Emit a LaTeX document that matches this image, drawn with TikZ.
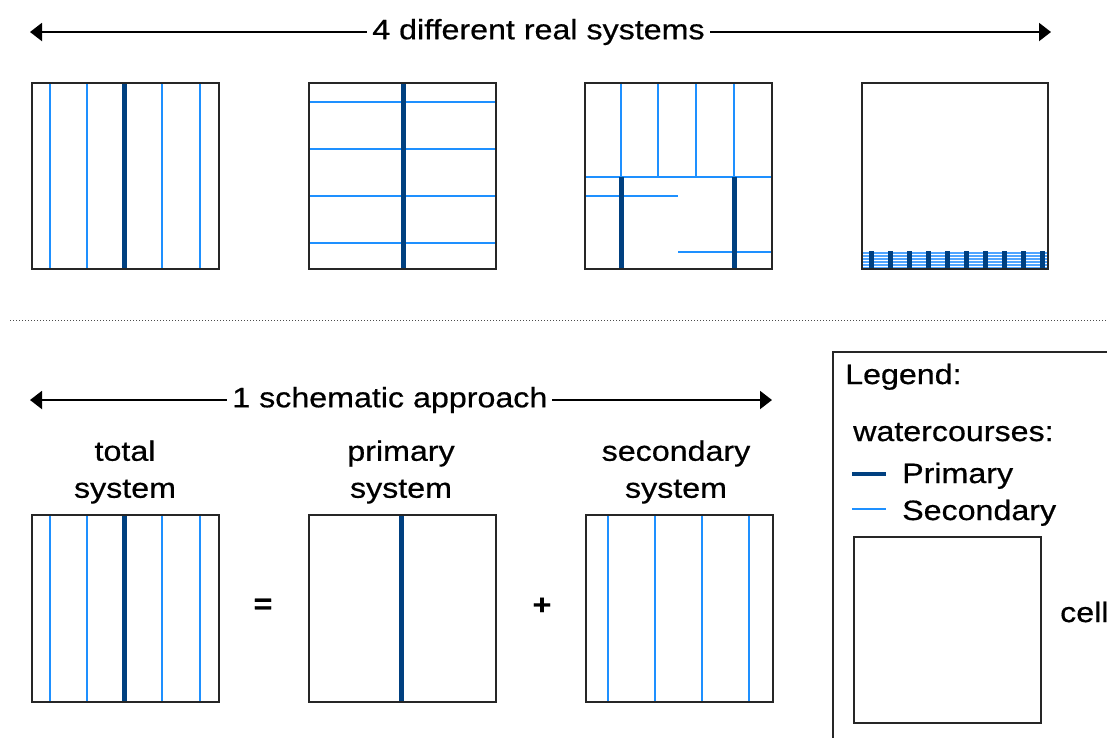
\documentclass[tikz,border=0pt]{standalone}
\usepackage{fontspec}
\setmainfont{Liberation Sans}[FakeStretch=1.15,FakeBold=0.6]
\usetikzlibrary{arrows.meta}
\definecolor{primc}{RGB}{0,64,128}
\definecolor{secc}{RGB}{30,144,255}
\definecolor{hatchc}{RGB}{80,165,255}
\begin{document}
\begin{tikzpicture}[x=1pt,y=-1pt,
  font=\fontsize{28}{37}\selectfont,
  cellbox/.style={draw=black!85, line width=2pt, minimum width=187pt, minimum height=186pt, inner sep=0pt},
  prim/.style={draw=primc, line width=5pt},
  sec/.style={draw=secc, line width=2pt},
  hatch/.style={draw=hatchc, line width=1.6pt},
  dbl/.style={line width=2pt, {Triangle[length=12pt,width=18pt]}-{Triangle[length=12pt,width=18pt]}},
  lbl/.style={fill=white, inner xsep=5pt, inner ysep=0pt},
  txt/.style={inner sep=0pt, align=center}]
\useasboundingbox (0,0) rectangle (1107,737);
\fill[white] (0,0) rectangle (1107,737);

% ---------- top arrow ----------
\coordinate (t1) at (30,32);
\coordinate (t2) at (1051,32);
\draw[dbl] (t1) -- node[lbl, pos=0.498] (ttop) {4 different real systems} (t2);

% ---------- top box 1 ----------
\foreach \x in {49.5,87,162,200} \draw[sec] (\x,83) -- (\x,269);
\draw[prim] (124.5,83) -- (124.5,269);
\node[cellbox] (b1) at (125.5,176) {};

% ---------- top box 2 ----------
\foreach \y in {102,149,196,243} \draw[sec] (309,\y) -- (496,\y);
\draw[prim] (403,83) -- (403,269);
\node[cellbox] (b2) at (402.5,176) {};

% ---------- top box 3 ----------
\foreach \x in {621,658,696,734} \draw[sec] (\x,83) -- (\x,177);
\draw[sec] (585,177) -- (772,177);
\draw[sec] (585,196) -- (678,196);
\draw[sec] (678,252) -- (772,252);
\draw[prim] (621,177) -- (621,269);
\draw[prim] (734,177) -- (734,269);
\node[cellbox] (b3) at (678.5,176) {};

% ---------- top box 4 ----------
\foreach \y in {253,256,259,262,265,268} \draw[hatch] (862,\y) -- (1048,\y);
\foreach \k in {0,...,9} \draw[prim] ({871+19*\k},251) -- ({871+19*\k},269);
\node[cellbox, minimum width=186pt] (b4) at (955,176) {};

% ---------- separator ----------
\coordinate (d1) at (10,320);
\coordinate (d2) at (1107,320);
\draw[black!70, line width=1pt, dotted] (d1) -- (d2);

% ---------- bottom arrow ----------
\coordinate (s1) at (30,400);
\coordinate (s2) at (772,400);
\draw[dbl] (s1) -- node[lbl, pos=0.485] (tbot) {1 schematic approach} (s2);

% ---------- labels ----------
\node[txt] (l1) at (125,472) {total\\system};
\node[txt] (l2) at (401,472) {primary\\system};
\node[txt] (l3) at (676,472) {secondary\\system};

% ---------- bottom box 1 ----------
\foreach \x in {49.5,87,162,200} \draw[sec] (\x,515) -- (\x,702);
\draw[prim] (124.5,515) -- (124.5,702);
\node[cellbox, minimum height=187pt] (c1) at (125.5,608.5) {};

% ---------- bottom box 2 ----------
\draw[prim] (401,515) -- (401,702);
\node[cellbox, minimum height=187pt] (c2) at (402.5,608.5) {};

% ---------- bottom box 3 ----------
\foreach \x in {608,655,702,749} \draw[sec] (\x,515) -- (\x,702);
\node[cellbox, minimum height=187pt] (c3) at (679,608.5) {};

\node[txt, font=\fontsize{28}{32}\selectfont\bfseries] (eq) at (263,606) {=};
\node[txt, font=\fontsize{28}{32}\selectfont\bfseries] (pl) at (542,606) {+};

% ---------- legend ----------
\coordinate (g1) at (1112,352);
\coordinate (g2) at (833,352);
\coordinate (g3) at (833,742);
\draw[black!85, line width=1.5pt] (g1) -- (g2) -- (g3);
\node[anchor=base west, inner sep=0pt] (leg) at (845,384) {Legend:};
\node[anchor=base west, inner sep=0pt] (wc) at (853,441) {watercourses:};
\coordinate (p1) at (852,474);
\coordinate (p2) at (886,474);
\draw[draw=primc, line width=4pt] (p1) -- (p2);
\node[anchor=base west, inner sep=0pt] (pt) at (902,483) {Primary};
\coordinate (q1) at (852,509);
\coordinate (q2) at (886,509);
\draw[sec] (q1) -- (q2);
\node[anchor=base west, inner sep=0pt] (st) at (902,520) {Secondary};
\node[cellbox, minimum width=187pt, minimum height=186pt] (cell) at (947.5,630) {};
\node[anchor=base west, inner sep=0pt] (ct) at (1060,622) {cell};
\end{tikzpicture}
\end{document}
